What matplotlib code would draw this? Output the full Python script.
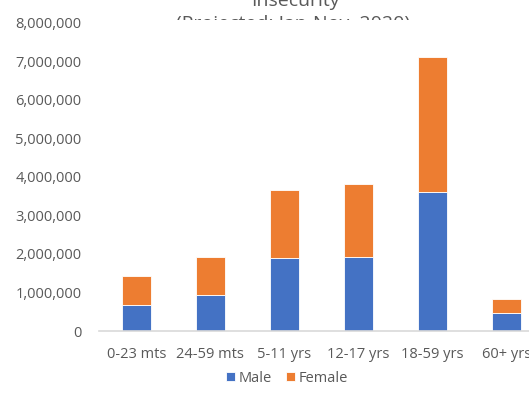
import matplotlib
matplotlib.use("Agg")
import matplotlib.pyplot as plt
from matplotlib.ticker import FuncFormatter
from matplotlib.transforms import Bbox, TransformedBbox

categories = ["0-23 mts", "24-59 mts", "5-11 yrs", "12-17 yrs", "18-59 yrs", "60+ yrs"]
male = [680000, 940000, 1890000, 1910000, 3620000, 460000]
female = [740000, 980000, 1760000, 1920000, 3490000, 370000]
title_lines = ["Insecurity", "(Projected: Jan-Nov. 2020)"]

plt.rcParams['font.family'] = ['Open Sans', 'DejaVu Sans']
grey = "#595959"

fig = plt.figure(figsize=(5.29, 4.13), dpi=100)
ax = fig.add_axes([0.188, 0.1985, 0.839, 0.746])

x = range(len(categories))
ax.bar(x, male, width=0.39, color="#4472C4", edgecolor="white", linewidth=0.6, label="Male")
ax.bar(x, female, width=0.39, bottom=male, color="#ED7D31", edgecolor="white", linewidth=0.6, label="Female")

ax.set_xlim(-0.5, len(categories) - 0.5)
ax.set_ylim(0, 8000000)
ax.set_yticks(range(0, 8000001, 1000000))
ax.yaxis.set_major_formatter(FuncFormatter(lambda v, p: f"{int(v):,}"))
ax.set_xticks(list(x))
ax.set_xticklabels(categories)
ax.tick_params(axis="both", length=0, labelsize=10.5, colors=grey)
ax.tick_params(axis="y", pad=13)
ax.tick_params(axis="x", pad=11.5)
for s in ["top", "right", "left"]:
    ax.spines[s].set_visible(False)
ax.spines["bottom"].set_color("#d9d9d9")
ax.spines["bottom"].set_linewidth(1.2)

ax.legend(loc="center", bbox_to_anchor=(287 / 529, 1 - 378 / 413), bbox_transform=fig.transFigure,
          ncol=2, frameon=False, fontsize=10.5, handlelength=0.6, handleheight=0.6,
          handletextpad=0.25, columnspacing=1.0, labelcolor=grey)

# the title is cut off in the original picture
clip = TransformedBbox(Bbox([[0, 1 - 20 / 413], [1, 1.5]]), fig.transFigure)
t1 = fig.text(295 / 529, 1 - 6 / 413, title_lines[0], ha="center", va="baseline", fontsize=14, color=grey)
t2 = fig.text(293 / 529, 1 - 29 / 413, title_lines[1], ha="center", va="baseline", fontsize=14, color=grey)
for t in (t1, t2):
    t.set_clip_box(clip)
    t.set_clip_on(True)

fig.savefig("out.png", dpi=100)
